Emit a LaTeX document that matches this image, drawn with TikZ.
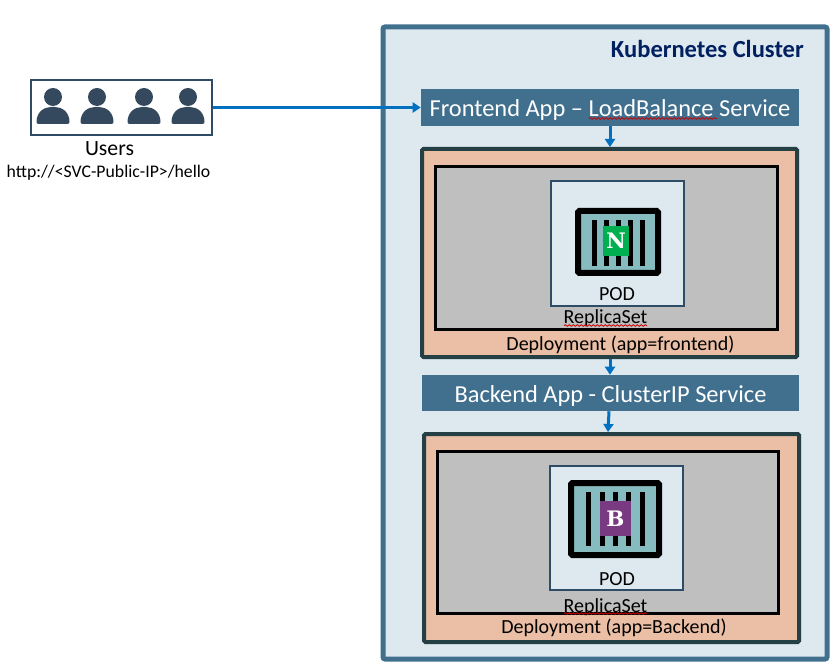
\documentclass[tikz,border=0pt]{standalone}
\usepackage{fontspec}
\setmainfont{Carlito}
\newfontfamily\badgefont{DejaVu Serif}
\usetikzlibrary{arrows.meta,calc,decorations.pathmorphing}
\definecolor{clusterfill}{HTML}{DEE8EF}
\definecolor{clusterline}{HTML}{41708F}
\definecolor{podline}{HTML}{2E4C66}
\definecolor{deployfill}{HTML}{EBBFA6}
\definecolor{deployline}{HTML}{254045}
\definecolor{rsfill}{HTML}{BFBFBF}
\definecolor{shipfill}{HTML}{86BBC0}
\definecolor{arrowblue}{HTML}{0070C0}
\definecolor{titleblue}{HTML}{002060}
\definecolor{personfill}{HTML}{34495E}
\definecolor{nginxgreen}{HTML}{00B050}
\definecolor{backpurple}{HTML}{7A3A82}
\tikzset{
  x=0.75pt, y=-0.75pt,
  size/.style 2 args={minimum width=#1*0.75pt, minimum height=#2*0.75pt, inner sep=0pt},
  cluster/.style={draw=clusterline, fill=clusterfill, line width=3.75pt, rounded corners=1.5pt},
  bar/.style={fill=clusterline, text=white, text height=14pt, text depth=0pt, font=\fontsize{18.3}{20}\selectfont},
  deploy/.style={draw=deployline, fill=deployfill, line width=3pt, rounded corners=1pt},
  replica/.style={draw=black, fill=rsfill, line width=2.25pt},
  podbox/.style={draw=podline, fill=clusterfill, line width=1.5pt},
  usersbox/.style={draw=podline, fill=white, line width=1.5pt},
  label/.style={font=\fontsize{15}{17}\selectfont, inner sep=0pt},
  conn/.style={arrowblue, line width=2.25pt},
  connarrow/.style={conn, -{Triangle[length=6pt,width=7.5pt]}},
  squiggle/.style={red!80!black, line width=0.6pt, decorate,
    decoration={snake, amplitude=0.6pt, segment length=3pt}},
  badge/.style={font=\fontsize{16}{16}\badgefont\bfseries, text=white, inner sep=0pt},
  pics/person/.style={code={
    \fill[personfill] (0,-10) circle (9);
    \fill[personfill, rounded corners=1.5pt] (-16.5,17) .. controls (-16.5,5) and (-9,0) .. (0,0)
      .. controls (9,0) and (16.5,5) .. (16.5,17) -- cycle;
  }},
}
\newcommand{\stripes}[3]{
  \foreach \sx in {#1} \fill[black] (\sx,#2) rectangle ++(5,#3);
}
\begin{document}
\begin{tikzpicture}
  \useasboundingbox (0,0) rectangle (834,666);
  \node[cluster, size={444}{632}] (cluster) at (605,343) {};
  \node[anchor=east, text=titleblue, font=\fontsize{18.4}{20}\selectfont\bfseries, inner sep=0pt] (title) at (804,48.5) {Kubernetes Cluster};

  % users
  \node[usersbox, size={181}{55}] (users) at (121.5,107.5) {};
  \foreach \px in {53,97,144,188}
    \pic at (\px,107) {person};
  \node[label, font=\fontsize{16.3}{18}\selectfont] (userstext) at (109.5,149) {Users};
  \node[label, font=\fontsize{13.3}{15}\selectfont] (urltext) at (108.5,173) {http://<SVC-Public-IP>/hello};

  % frontend
  \node[bar, size={378}{37}] (frontbar) at (610,107.5) {Frontend App -- LoadBalance Service};
  \node[deploy, size={375}{208}] (frontdeploy) at (609.5,253) {};
  \node[replica, size={342}{163}] (frontrs) at (606.5,248) {};
  \node[podbox, size={133}{124}] (frontpod) at (617,243.5) {};
  \fill[shipfill, draw=black, line width=4.5pt, rounded corners=1pt] (578,211) rectangle (658,273);
  \stripes{592,604,616,628,640}{220}{46}
  \node[fill=nginxgreen, size={26}{30}, badge] (frontbadge) at (616,241) {N};
  \node[label] (frontpodtext) at (617,294) {POD};
  \node[label] (frontrstext) at (605.5,318) {ReplicaSet};
  \node[label] (frontdeploytext) at (620.5,345) {Deployment (app=frontend)};
  \draw[squiggle] (589,118.5) -- (717,118.5);
  \draw[squiggle] (564,325.5) -- (647,325.5);

  % backend
  \node[bar, size={377}{36}] (backbar) at (610.5,393) {Backend App - ClusterIP Service};
  \node[deploy, size={375}{208}] (backdeploy) at (611.5,538) {};
  \node[replica, size={341}{162}] (backrs) at (608,532.5) {};
  \node[podbox, size={133}{124}] (backpod) at (616,527.5) {};
  \fill[shipfill, draw=black, line width=4.5pt, rounded corners=1pt] (571,483) rectangle (659,555);
  \stripes{586,600,613,626,640}{492}{54}
  \node[fill=backpurple, size={31}{35}, badge] (backbadge) at (615.5,518.5) {B};
  \node[label] (backpodtext) at (617,579) {POD};
  \node[label] (backrstext) at (605.5,607) {ReplicaSet};
  \node[label] (backdeploytext) at (614,628) {Deployment (app=Backend)};
  \draw[squiggle] (564,613.5) -- (647,613.5);

  % arrows
  \draw[connarrow] (users.east) -- (frontbar.west);
  \draw[connarrow] (frontbar.south) -- (frontdeploy.north -| frontbar.south);
  \draw[connarrow] (frontdeploy.south -| frontbar.south) -- (backbar.north -| frontbar.south);
  \draw[connarrow] ($(backbar.south)+(-1.5,0)$) -- ($(backdeploy.north)+(-3.5,0)$);
\end{tikzpicture}
\end{document}
